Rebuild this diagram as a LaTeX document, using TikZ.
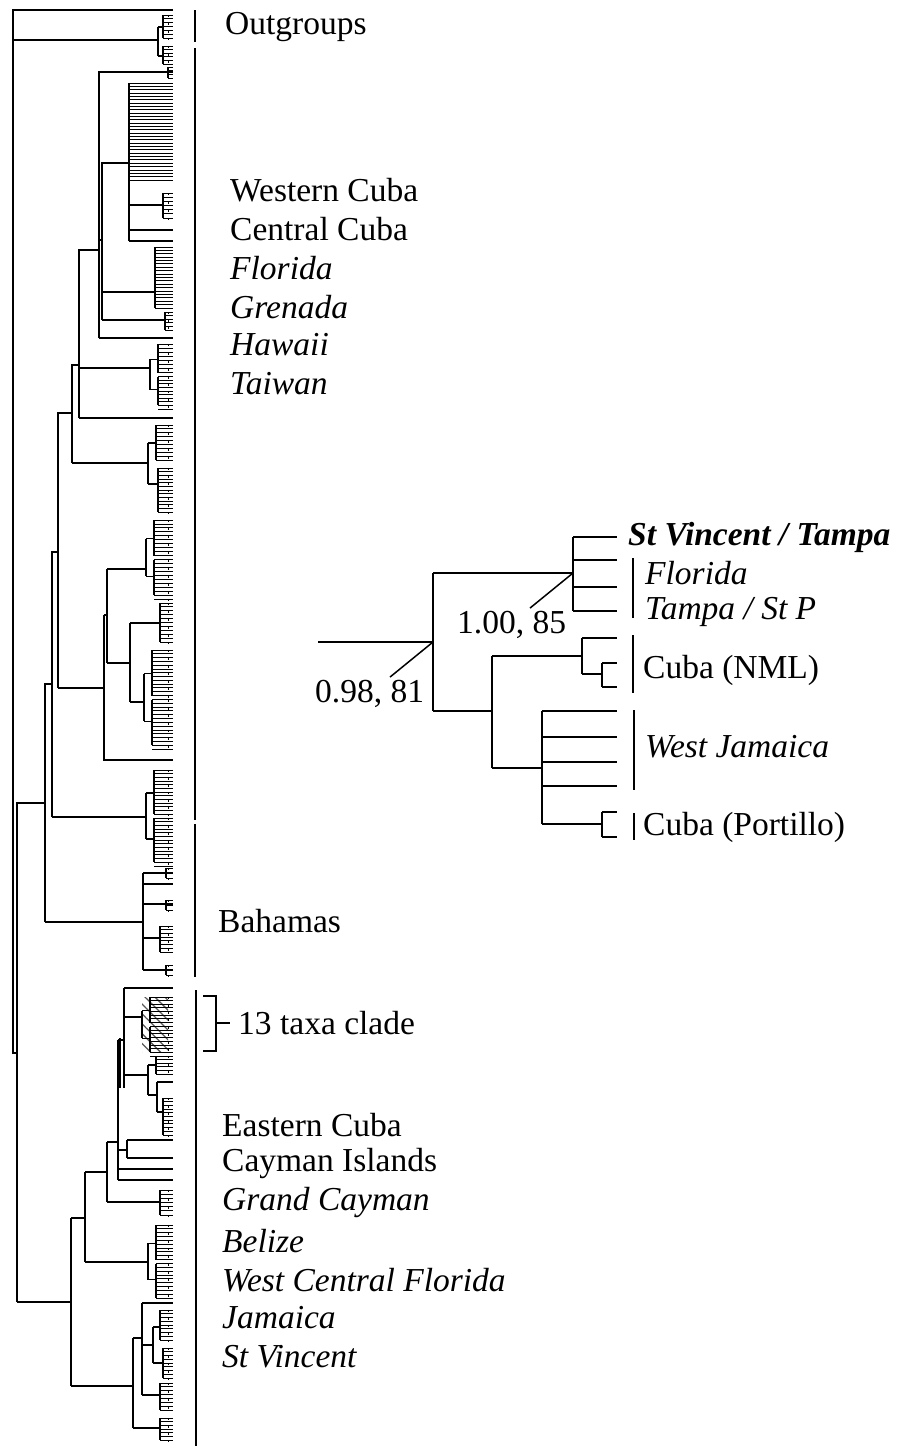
\documentclass[tikz,border=0pt]{standalone}
\usepackage{fontspec}
\setmainfont{Liberation Serif}
\usetikzlibrary{patterns.meta,calc}

\newcommand{\tipx}{173}
% small clade: x, top, bottom
\newcommand{\clade}[3]{%
  \draw[tree] (#1,#2) -- (#1,#3);
  \pgfmathtruncatemacro{\ntip}{max(1,(#3-#2)/3.6)}%
  \foreach \k in {0,...,\ntip}{%
    \pgfmathsetmacro{\yk}{#2+\k*(#3-#2)/\ntip}%
    \draw[twig] (#1,\yk) -- (\tipx,\yk);
    \ifodd\k\else \draw[twig] (\tipx-5,\yk) -- (\tipx-5,\yk+2.4);\fi
  }%
}
% clade in two halves
\newcommand{\bclade}[3]{%
  \pgfmathsetmacro{\ym}{(#2+#3)/2}%
  \pgfmathsetmacro{\ya}{(#2+\ym)/2}%
  \pgfmathsetmacro{\yb}{(\ym+#3)/2}%
  \draw[tree] (#1,\ya) -- (#1,\yb);
  \draw[tree] (#1,\ya) -- (#1+8,\ya) (#1,\yb) -- (#1+8,\yb);
  \clade{#1+8}{#2}{\ym-2}
  \clade{#1+8}{\ym+2}{#3}
}
% straight comb: x, top, bottom
\newcommand{\comb}[3]{%
  \draw[tree] (#1,#2) -- (#1,#3);
  \pgfmathtruncatemacro{\ntip}{max(1,(#3-#2)/3.3)}%
  \foreach \k in {0,...,\ntip}{%
    \pgfmathsetmacro{\yk}{#2+\k*(#3-#2)/\ntip}%
    \draw[twig] (#1,\yk) -- (\tipx,\yk);
  }%
}

\begin{document}
\begin{tikzpicture}[x=1pt,y=-1pt,
  tree/.style={line width=1.3pt},
  twig/.style={line width=0.9pt},
  bar/.style={line width=1.3pt},
  link/.style={line width=1.5pt},
  lab/.style={anchor=west, inner sep=0pt, font=\fontsize{33.5}{40}\selectfont},
  itlab/.style={lab, font=\fontsize{33.5}{40}\selectfont\itshape}]
\useasboundingbox (0,0) rectangle (899,1446);

% --- big tree: root and outgroups
\draw[tree] (\tipx,10) -| (13,1053) -- (17,1053);
\draw[tree] (13,40) -- (158,40);
\draw[tree] (158,27) -- (158,56) (158,27) -- (163,27) (158,56) -- (163,56);
\clade{163}{15}{38}
\clade{163}{46}{64}

% backbone of the ingroup
\draw[tree] (17,1302) |- (45,803);
\draw[tree] (45,922) |- (52,684);
\draw[tree] (52,817) |- (58,552);
\draw[tree] (58,688) |- (72,413);
\draw[tree] (72,463) |- (79,365);
\draw[tree] (79,418) |- (99,250);
\draw[tree] (99,338) |- (\tipx,72);
\clade{168}{67}{78}
\draw[tree] (99,338) -- (\tipx,338);
\draw[tree] (99,240) -- (102,240);
\draw[tree] (102,320) |- (129,163);
\draw[tree] (129,180) -- (129,241);
\comb{129}{83}{180}
\draw[tree] (129,205) -- (163,205);
\clade{163}{193}{218}
\draw[tree] (129,230) -- (\tipx,230);
\draw[tree] (129,241) -- (\tipx,241);
\draw[tree] (102,292) -- (155,292);
\comb{155}{247}{308}
\draw[tree] (102,320) -- (165,320);
\clade{165}{312}{330}

\draw[tree] (79,418) -- (\tipx,418);
\draw[tree] (79,368) -- (150,368);
\bclade{150}{344}{405}

\draw[tree] (72,463) -- (148,463);
\draw[tree] (148,443) -- (148,484) (148,443) -- (156,443) (148,484) -- (158,484);
\clade{156}{425}{460}
\clade{158}{468}{512}

\draw[tree] (58,688) -- (104,688);
\draw[tree] (104,615) -- (104,760) -- (\tipx,760);
\draw[tree] (104,615) -- (107,615);
\draw[tree] (107,569) -- (107,663);
\draw[tree] (107,569) -- (146,569);
\bclade{146}{520}{595}
\draw[tree] (107,663) -- (130,663);
\draw[tree] (130,623) -- (130,702);
\draw[tree] (130,623) -- (160,623);
\clade{160}{603}{642}
\draw[tree] (130,702) -- (144,702);
\bclade{144}{650}{745}

\draw[tree] (52,817) -- (146,817);
\bclade{146}{770}{862}

% Bahamas
\draw[tree] (45,922) -- (143,922);
\draw[tree] (143,873) -- (143,970);
\foreach \yy in {873,884,904,970}{\draw[tree] (143,\yy) -- (\tipx,\yy);}
\clade{166}{868}{878}
\clade{166}{900}{910}
\clade{166}{965}{975}
\draw[tree] (143,938) -- (160,938);
\clade{160}{926}{952}

% eastern group
\draw[tree] (17,1302) -- (71,1302);
\draw[tree] (71,1218) -- (71,1386);
\draw[tree] (71,1218) -- (85,1218);
\draw[tree] (85,1172) -- (85,1262);
\draw[tree] (85,1262) -- (148,1262);
\bclade{148}{1225}{1298}
\draw[tree] (85,1172) -- (107,1172);
\draw[tree] (107,1142) -- (107,1202);
\draw[tree] (107,1202) -- (160,1202);
\clade{160}{1190}{1215}
\draw[tree] (107,1142) -- (118,1142);
\draw[line width=2pt] (118,1040) -- (118,1180);
\draw[tree] (118,1169) -- (\tipx,1169);
\draw[tree] (118,1180) -- (\tipx,1180);
\draw[tree] (118,1150) -- (127,1150);
\draw[tree] (127,1140) -- (127,1158);
\draw[tree] (127,1140) -- (\tipx,1140) (127,1158) -- (\tipx,1158);
\draw[tree] (118,1040) -- (124,1040);
\draw[tree] (124,988) -- (124,1088);
\draw[tree] (120,1038) -- (120,1088);
\draw[tree] (124,988) -- (\tipx,988);
% 13 taxa clade, hatched
\fill[pattern={Lines[angle=-45,distance=7pt,line width=1.3pt]}, pattern color=black!65]
  (142,997) rectangle (168,1052);
\draw[tree] (124,1017) -- (142,1017);
\bclade{142}{997}{1052}
\draw[tree] (124,1075) -- (148,1075);
\draw[tree] (148,1065) -- (148,1095);
\draw[tree] (148,1065) -- (156,1065);
\clade{156}{1056}{1074}
\draw[tree] (148,1095) -- (157,1095);
\draw[tree] (157,1082) -- (157,1112);
\draw[tree] (157,1082) -- (\tipx,1082);
\draw[tree] (157,1112) -- (163,1112);
\clade{163}{1098}{1135}

\draw[tree] (71,1386) -- (133,1386);
\draw[tree] (133,1338) -- (133,1428);
\draw[tree] (133,1428) -- (160,1428);
\clade{160}{1418}{1440}
\draw[tree] (133,1338) -- (142,1338);
\draw[tree] (142,1303) -- (142,1395);
\draw[tree] (142,1303) -- (\tipx,1303);
\draw[tree] (142,1395) -- (160,1395);
\clade{160}{1383}{1410}
\draw[tree] (142,1345) -- (153,1345);
\draw[tree] (153,1327) -- (153,1363);
\draw[tree] (153,1327) -- (160,1327);
\clade{160}{1310}{1340}
\draw[tree] (153,1363) -- (163,1363);
\clade{163}{1348}{1378}

% group bars
\draw[bar] (195,10) -- (195,42);
\draw[bar] (195,48) -- (195,820);
\draw[bar] (195,824) -- (195,977);
\draw[bar] (196,990) -- (196,1446);
\draw[bar] (203,996) -- (216,996) -- (216,1051) -- (203,1051);
\draw[bar] (216,1023) -- (230,1023);

% group labels
\node[lab] (outg) at (225,27) {Outgroups};
\node[lab] (wcuba) at (230,190) {Western Cuba};
\node[lab] (ccuba) at (230,229) {Central Cuba};
\node[itlab] (flor) at (230,268) {Florida};
\node[itlab] (gren) at (230,307) {Grenada};
\node[itlab] (hawa) at (230,345) {Hawaii};
\node[itlab] (taiw) at (230,384) {Taiwan};
\node[lab] (baha) at (218,921) {Bahamas};
\node[lab] (thirt) at (238,1023) {13 taxa clade};
\node[lab] (ecuba) at (222,1125) {Eastern Cuba};
\node[lab] (caym) at (222,1163) {Cayman Islands};
\node[itlab] (gcaym) at (222,1202) {Grand Cayman};
\node[itlab] (beli) at (222,1241) {Belize};
\node[itlab] (wcflor) at (222,1280) {West Central Florida};
\node[itlab] (jama) at (222,1318) {Jamaica};
\node[itlab] (stv) at (222,1357) {St Vincent};

% --- inset: 13 taxa clade
\coordinate (n0) at (433,642);
\coordinate (n1) at (573,573);
\coordinate (n2) at (492,711);
\coordinate (n3) at (582,656);
\coordinate (n4) at (542,768);
\draw[link] (318,642) -- (n0);
\draw[link] (433,573) -- (433,711);
\draw[link] (433,573) -- (n1);
\draw[link] (573,537) -- (573,611);
\foreach \yy in {537,560,587,611}{\draw[link] (573,\yy) -- (617,\yy);}
\draw[link] (433,711) -- (n2);
\draw[link] (492,656) -- (492,768);
\draw[link] (492,656) -- (n3);
\draw[link] (582,638) -- (582,674);
\draw[link] (582,638) -- (617,638);
\draw[link] (582,674) -- (602,674);
\draw[link] (602,663) -- (602,687) (602,663) -- (617,663) (602,687) -- (617,687);
\draw[link] (492,768) -- (n4);
\draw[link] (542,711) -- (542,824);
\foreach \yy in {711,737,762,786}{\draw[link] (542,\yy) -- (617,\yy);}
\draw[link] (542,824) -- (602,824);
\draw[link] (602,812) -- (602,837) (602,812) -- (617,812) (602,837) -- (617,837);

% support values
\node[lab] (sup1) at (457,625) {1.00, 85};
\node[lab] (sup2) at (315,694) {0.98, 81};
\draw[link] ($(sup1.north west)+(73,-3)$) -- (n1);
\draw[link] ($(sup2.north west)+(75,-3)$) -- (n0);

% inset bars and labels
\draw[bar] (633,558) -- (633,618);
\draw[bar] (633,635) -- (633,693);
\draw[bar] (634,710) -- (634,790);
\draw[bar] (634,813) -- (634,840);
\node[lab, font=\fontsize{33.5}{40}\selectfont\bfseries\itshape] (svt) at (628,537) {St Vincent / Tampa};
\node[itlab] (iflor) at (645,573) {Florida};
\node[itlab] (tsp) at (645,612) {Tampa / St P};
\node[lab] (cnml) at (643,670) {Cuba (NML)};
\node[itlab] (wjam) at (645,747) {West Jamaica};
\node[lab] (cport) at (643,827) {Cuba (Portillo)};
\end{tikzpicture}
\end{document}
